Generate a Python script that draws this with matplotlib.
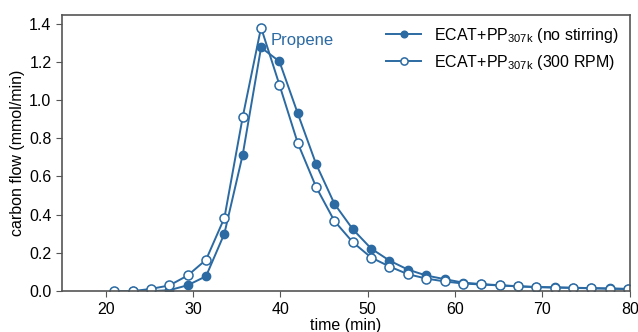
import numpy as np
import matplotlib.pyplot as plt

plt.rcParams['font.family'] = ['Liberation Sans', 'DejaVu Sans']

# time axis: one sample every 2.1 min starting at 21 min
t_300 = [21.0, 23.1, 25.2, 27.3, 29.4, 31.5, 33.6, 35.7, 37.8, 39.9,
         42.0, 44.1, 46.2, 48.3, 50.4, 52.5, 54.6, 56.7, 58.8, 60.9,
         63.0, 65.1, 67.2, 69.3, 71.4, 73.5, 75.6, 77.7, 79.8]
flow_300 = [0.0, 0.0, 0.012, 0.03, 0.082, 0.164, 0.383, 0.911, 1.379, 1.08,
            0.775, 0.545, 0.367, 0.256, 0.176, 0.129, 0.089, 0.066, 0.051, 0.040,
            0.035, 0.030, 0.025, 0.021, 0.019, 0.017, 0.015, 0.013, 0.011]

t_still = t_300[1:]
flow_still = [0.0, 0.0, 0.005, 0.031, 0.078, 0.301, 0.714, 1.275, 1.202,
              0.930, 0.665, 0.457, 0.324, 0.223, 0.160, 0.113, 0.082, 0.063, 0.045,
              0.037, 0.031, 0.026, 0.022, 0.020, 0.018, 0.016, 0.014, 0.012]

col = '#2b6aa2'

fig, ax = plt.subplots(figsize=(6.38, 3.32), dpi=100)
fig.subplots_adjust(left=0.097, right=0.987, top=0.956, bottom=0.123)

ax.plot(t_still, flow_still, '-o', color=col, lw=1.4, ms=6,
        mfc=col, mec=col, label=r'ECAT+PP$_{\mathregular{307k}}$ (no stirring)')
ax.plot(t_300, flow_300, '-o', color=col, lw=1.4, ms=6.5,
        mfc='white', mec=col, mew=1.1, label=r'ECAT+PP$_{\mathregular{307k}}$ (300 RPM)')

ax.text(38.9, 1.31, 'Propene', color=col, fontsize=12, va='center', ha='left')

ax.set_xlim(15, 80)
ax.set_ylim(0, 1.447)
ax.set_xticks([20, 30, 40, 50, 60, 70, 80])
ax.set_yticks(np.arange(0, 1.41, 0.2))
ax.yaxis.set_major_formatter(plt.FormatStrFormatter('%.1f'))
ax.tick_params(labelsize=11.5, direction='out', length=4, color='#555555')
for s in ax.spines.values():
    s.set_color('#555555')
    s.set_linewidth(1.2)

ax.set_xlabel('time (min)', fontsize=11.5, labelpad=1)
ax.set_ylabel('carbon flow (mmol/min)', fontsize=11.5, labelpad=3)

ax.legend(loc='upper right', frameon=False, fontsize=11.5, handlelength=2.2,
          markerscale=0.8, borderaxespad=0.3)

fig.savefig('out.png')
